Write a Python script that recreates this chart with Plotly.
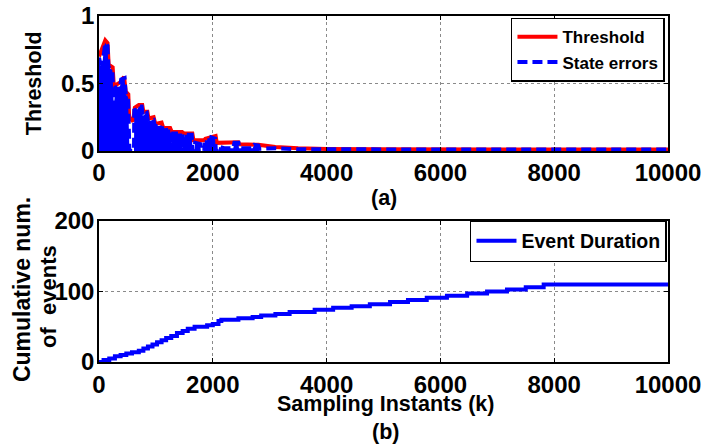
import plotly.graph_objects as go

# ---------------- data ----------------
# (a) threshold envelope
thr_k = [0, 110, 150, 170, 240, 265, 300, 380, 440, 470, 515, 530, 600, 630, 700, 760, 780, 850, 870,
         960, 990, 1100, 1130, 1250, 1280, 1460, 1490, 1640, 1660, 1850, 1870, 2050, 2070, 2380, 2450,
         2470, 2800, 3100, 3500, 4000, 5000, 10000]
thr_v = [0.70, 0.82, 0.80, 0.64, 0.62, 0.45, 0.49, 0.51, 0.55, 0.44, 0.42, 0.25, 0.22, 0.32, 0.34, 0.34,
         0.29, 0.29, 0.24, 0.25, 0.20, 0.21, 0.17, 0.17, 0.14, 0.14, 0.13, 0.13, 0.08, 0.08, 0.09, 0.11,
         0.06, 0.06, 0.065, 0.05, 0.045, 0.03, 0.02, 0.015, 0.012, 0.01]

# (a) state errors
err_k = [0, 0, 50, 90, 110, 150, 165, 235, 260, 290, 370, 390, 450, 470, 510, 525, 535, 615, 620, 680,
         700, 750, 770, 840, 860, 960, 980, 1100, 1120, 1250, 1270, 1300, 1460, 1475, 1500, 1630, 1645,
         1680, 1690, 1780, 1790, 1850, 1860, 1930, 1945, 1975, 2040, 2055, 2100, 2110, 2200, 2360, 2380,
         2450, 2460, 2700, 2730, 2800, 2810, 3100, 3500, 10000]
err_v = [0, 0.69, 0.60, 0.78, 0.80, 0.78, 0.62, 0.60, 0.33, 0.47, 0.48, 0.53, 0.54, 0.42, 0.40, 0.15,
         0, 0, 0.30, 0.31, 0.33, 0.33, 0.26, 0.28, 0.22, 0.23, 0.18, 0.19, 0.15, 0.16, 0.06, 0.13, 0.13,
         0.02, 0.12, 0.12, 0, 0, 0.06, 0.05, 0, 0, 0.08, 0.08, 0.02, 0.10, 0.09, 0, 0, 0.03, 0.02, 0.02,
         0.06, 0.06, 0.02, 0.02, 0.045, 0.04, 0.015, 0.02, 0.012, 0.01]

# (b) cumulative number of events
ev_k = [0, 80, 180, 280, 380, 480, 580, 700, 780, 860, 940, 1020, 1100, 1180, 1270, 1370, 1470, 1560,
        1680, 1900, 2000, 2100, 2150, 2450, 2700, 2850, 3100, 3350, 3790, 4115, 4440, 4760, 5115, 5430,
        5760, 6115, 6470, 6820, 7170, 7500, 7815, 10000]
ev_n = [0, 3, 5, 8, 10, 12, 14, 16, 19, 22, 25, 28, 31, 34, 37, 41, 44, 47, 50, 52, 54, 58, 60, 62, 64,
        66, 68, 71, 74, 77, 79, 82, 85, 88, 91, 94, 97, 100, 103, 106, 110, 110]

x_ticks = [0, 2000, 4000, 6000, 8000, 10000]
x_labels = ["0", "2000", "4000", "6000", "8000", "10000"]
ya_ticks = [0, 0.5, 1]
ya_labels = ["0", "0.5", "1"]
yb_ticks = [0, 100, 200]
yb_labels = ["0", "100", "200"]

# ---------------- figure ----------------
FONT = "Liberation Sans, Arial, sans-serif"
fig = go.Figure()

fig.add_trace(go.Scatter(x=thr_k, y=thr_v, mode="lines", name="Threshold",
                         line=dict(color="#ff0000", width=4), xaxis="x", yaxis="y", legend="legend"))
fill_k = [k for k in err_k if k <= 2900]
fill_v = err_v[:len(fill_k)]
fig.add_trace(go.Scatter(x=fill_k, y=fill_v, mode="lines", fill="tozeroy", fillcolor="#0000ff",
                         line=dict(color="#0000ff", width=0), showlegend=False, hoverinfo="skip",
                         xaxis="x", yaxis="y"))
fig.add_trace(go.Scatter(x=err_k, y=err_v, mode="lines", name="State errors",
                         line=dict(color="#0000ff", width=4, dash="10px,5px"),
                         xaxis="x", yaxis="y", legend="legend"))
fig.add_trace(go.Scatter(x=ev_k, y=ev_n, mode="lines", name="Event Duration", line_shape="hv",
                         line=dict(color="#0000ff", width=4), xaxis="x2", yaxis="y2", legend="legend2"))

tickfont = dict(family=FONT, size=24, color="black", weight="bold")
axis_common = dict(showline=True, linecolor="black", linewidth=1.5, mirror="ticks",
                   ticks="inside", ticklen=4, tickwidth=1, tickcolor="black",
                   showgrid=True, gridcolor="#8a8a8a", gridwidth=1, griddash="dot",
                   zeroline=False, tickfont=tickfont, automargin=False,
                   ticklabeloverflow="allow")

fig.update_layout(
    width=705, height=447, autosize=False,
    paper_bgcolor="white", plot_bgcolor="white",
    margin=dict(l=99, r=37, t=16, b=85),
    xaxis=dict(domain=[0, 1], anchor="y", range=[0, 10000], tickvals=x_ticks, ticktext=x_labels,
               **axis_common),
    yaxis=dict(domain=[0.61, 1], anchor="x", range=[0, 1], tickvals=ya_ticks, ticktext=ya_labels,
               ticklabelstandoff=-2, **axis_common),
    xaxis2=dict(domain=[0, 1], anchor="y2", range=[0, 10000], tickvals=x_ticks, ticktext=x_labels,
                **axis_common),
    yaxis2=dict(domain=[0, 0.4075], anchor="x2", range=[0, 200], tickvals=yb_ticks, ticktext=yb_labels,
                ticklabelstandoff=-2, **axis_common),
    legend=dict(x=0.724, y=0.995, xanchor="left", yanchor="top", bgcolor="white",
                bordercolor="black", borderwidth=1.5, itemwidth=40,
                font=dict(family=FONT, size=17, color="black", weight="bold")),
    legend2=dict(x=0.652, y=0.410, xanchor="left", yanchor="top", bgcolor="white",
                 bordercolor="black", borderwidth=1.5, itemwidth=40,
                 font=dict(family=FONT, size=19.5, color="black", weight="bold")),
    showlegend=True,
)


def ann(text, x, y, size, angle=0):
    fig.add_annotation(text=text, x=x, y=y, xref="paper", yref="paper", showarrow=False,
                       textangle=angle, xanchor="center", yanchor="middle",
                       font=dict(family=FONT, size=size, color="black", weight="bold"))


ann("Threshold", -0.114, 0.806, 21.5, -90)
ann("(a)", 0.501, 0.474, 21.5)
ann("Sampling Instants (k)", 0.503, -0.120, 21.5)
ann("(b)", 0.503, -0.2023, 21.5)
ann("Cumulative num.", -0.1353, 0.208, 23, -90)
ann("of  events", -0.0879, 0.191, 22, -90)

# remove the default page margin so the 705x447 figure fills the window exactly
fig.write_html("out.html", config={"displayModeBar": False},
               post_script="document.body.style.margin='0';document.body.style.overflow='hidden';")
